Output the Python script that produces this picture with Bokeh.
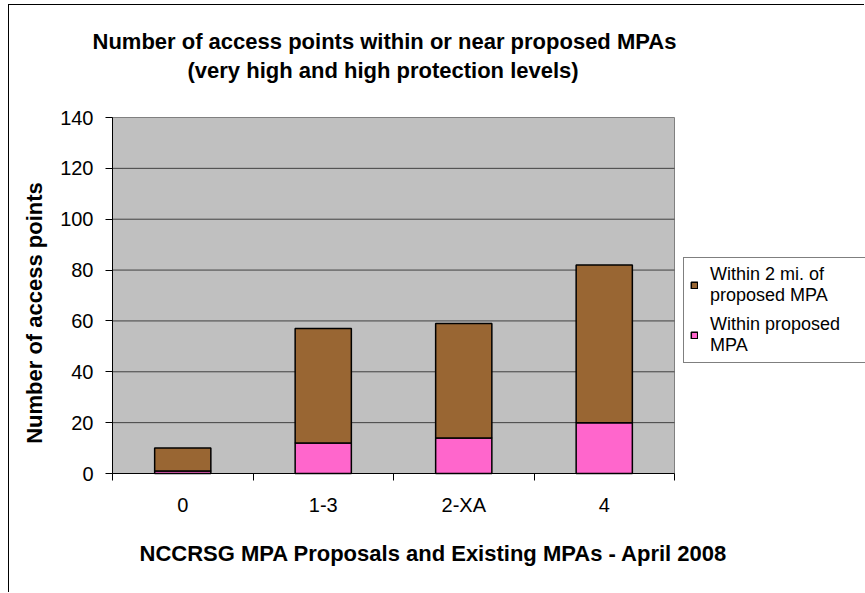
import math

from bokeh.plotting import figure
from bokeh.models import (ColumnDataSource, Range1d, FixedTicker, Legend,
                          LegendItem, Label)
from bokeh.embed import file_html
from bokeh.resources import INLINE

# Chart data
categories = ["0", "1-3", "2-XA", "4"]
within_mpa = [1, 12, 14, 20]          # access points inside the proposed MPA
within_2mi = [9, 45, 45, 62]          # additional access points within 2 miles
y_ticks = [0, 20, 40, 60, 80, 100, 120, 140]

FONT = "Liberation Sans"
BROWN = "#996633"
PINK = "#FF66CC"
AREA_GREY = "#C0C0C0"

n = len(categories)
centers = [i + 0.5 for i in range(n)]
bounds = list(range(n + 1))
y_max = y_ticks[-1]

# page layout (pixels): canvas origin and the grey plot area
CANVAS_X0, CANVAS_Y0, CANVAS_W, CANVAS_H = 9, 5, 856, 588
AREA_LEFT, AREA_RIGHT, AREA_TOP, AREA_BOTTOM = 112, 674, 117, 473

# the drawing frame fills the whole canvas, so titles, axis labels and the
# legend all live inside it; the grey area covers the data extent
x_per_px = n / (AREA_RIGHT - AREA_LEFT)
y_per_px = y_max / (AREA_BOTTOM - AREA_TOP)
x_start = (CANVAS_X0 - AREA_LEFT) * x_per_px
x_end = (CANVAS_X0 + CANVAS_W - AREA_LEFT) * x_per_px
y_start = (AREA_BOTTOM - (CANVAS_Y0 + CANVAS_H)) * y_per_px
y_end = (AREA_BOTTOM - CANVAS_Y0) * y_per_px


def dx(px):
    return (px - AREA_LEFT) * x_per_px


def dy(py):
    return (AREA_BOTTOM - py) * y_per_px


source = ColumnDataSource(dict(x=centers, within_mpa=within_mpa,
                               within_2mi=within_2mi, cat=categories))

# the figure sits inside a panel frame drawn with a left and top rule
p = figure(width=CANVAS_W, height=CANVAS_H, output_backend="svg",
           toolbar_location=None, title=None, margin=(4, 0, 0, 8),
           styles={"border-left": "1px solid black", "border-top": "1px solid black"},
           x_range=Range1d(x_start, x_end), y_range=Range1d(y_start, y_end),
           min_border_left=0, min_border_right=0,
           min_border_top=0, min_border_bottom=0)

p.background_fill_color = "white"
p.border_fill_color = "white"
p.outline_line_color = None
p.xgrid.visible = False
p.ygrid.visible = False

# grey plot area and its horizontal gridlines
p.quad(left=[0], right=[n], bottom=[0], top=[y_max], fill_color=AREA_GREY,
       line_color="#808080", line_width=1)
grid_y = y_ticks[1:-1]
p.segment(x0=[0] * len(grid_y), x1=[n] * len(grid_y), y0=grid_y, y1=grid_y,
          line_color="#404040", line_width=1)

# stacked bars
bars = p.vbar_stack(["within_mpa", "within_2mi"], x="x", width=0.4, source=source,
                    fill_color=[PINK, BROWN], line_color="black", line_width=1.5)

# x axis pinned to y = 0: labels at category centres, ticks at boundaries
p.xaxis.fixed_location = 0
p.xaxis.bounds = (0, n)
p.xaxis.ticker = FixedTicker(ticks=centers, minor_ticks=bounds)
p.xaxis.major_label_overrides = {c: lab for c, lab in zip(centers, categories)}
p.xaxis.major_tick_out = 0
p.xaxis.major_tick_in = 0
p.xaxis.minor_tick_out = 7
p.xaxis.minor_tick_in = 0
p.xaxis.minor_tick_line_color = "black"
p.xaxis.major_label_standoff = 13

# y axis pinned to the left edge of the grey area
p.yaxis.fixed_location = 0
p.yaxis.bounds = (0, y_max)
p.yaxis.ticker = FixedTicker(ticks=y_ticks, minor_ticks=[])
p.yaxis.major_tick_out = 7
p.yaxis.major_tick_in = 0
p.yaxis.minor_tick_line_color = None
p.yaxis.major_label_standoff = 12

for ax in (p.xaxis[0], p.yaxis[0]):
    ax.axis_line_color = "black"
    ax.major_tick_line_color = "black"
    ax.major_label_text_font = FONT
    ax.major_label_text_font_size = "20px"
    ax.major_label_text_color = "black"

# chart title, two lines
title_style = dict(text_font=FONT, text_font_style="bold", text_color="black",
                   text_font_size="22px", text_baseline="middle")
p.add_layout(Label(x=dx(92), y=dy(41), text_align="left",
                   text="Number of access points within or near proposed MPAs",
                   **title_style))
p.add_layout(Label(x=dx(187), y=dy(70), text_align="left",
                   text="(very high and high protection levels)", **title_style))

# axis titles
p.add_layout(Label(x=dx(33.5), y=dy(312.5), angle=math.pi / 2, text_align="center",
                   text="Number of access points", **title_style))
p.add_layout(Label(x=dx(139), y=dy(553), text_align="left",
                   text="NCCRSG MPA Proposals and Existing MPAs - April 2008",
                   **title_style))

# legend beside the grey area
legend = Legend(items=[
    LegendItem(label="Within 2 mi. of\nproposed MPA", renderers=[bars[1]]),
    LegendItem(label="Within proposed\nMPA", renderers=[bars[0]]),
], location=(683 - CANVAS_X0, CANVAS_Y0 + CANVAS_H - 363))
legend.label_text_font = FONT
legend.label_text_font_size = "18px"
legend.label_text_color = "black"
legend.label_text_line_height = 1.2
legend.glyph_width = 8
legend.glyph_height = 8
legend.label_standoff = 12
legend.spacing = 8
legend.padding = 6
legend.margin = 0
legend.label_width = 170
legend.border_line_color = "black"
legend.border_line_width = 1
legend.background_fill_color = "white"
legend.background_fill_alpha = 1
p.add_layout(legend)

open("out.html", "w").write(file_html(p, INLINE))
